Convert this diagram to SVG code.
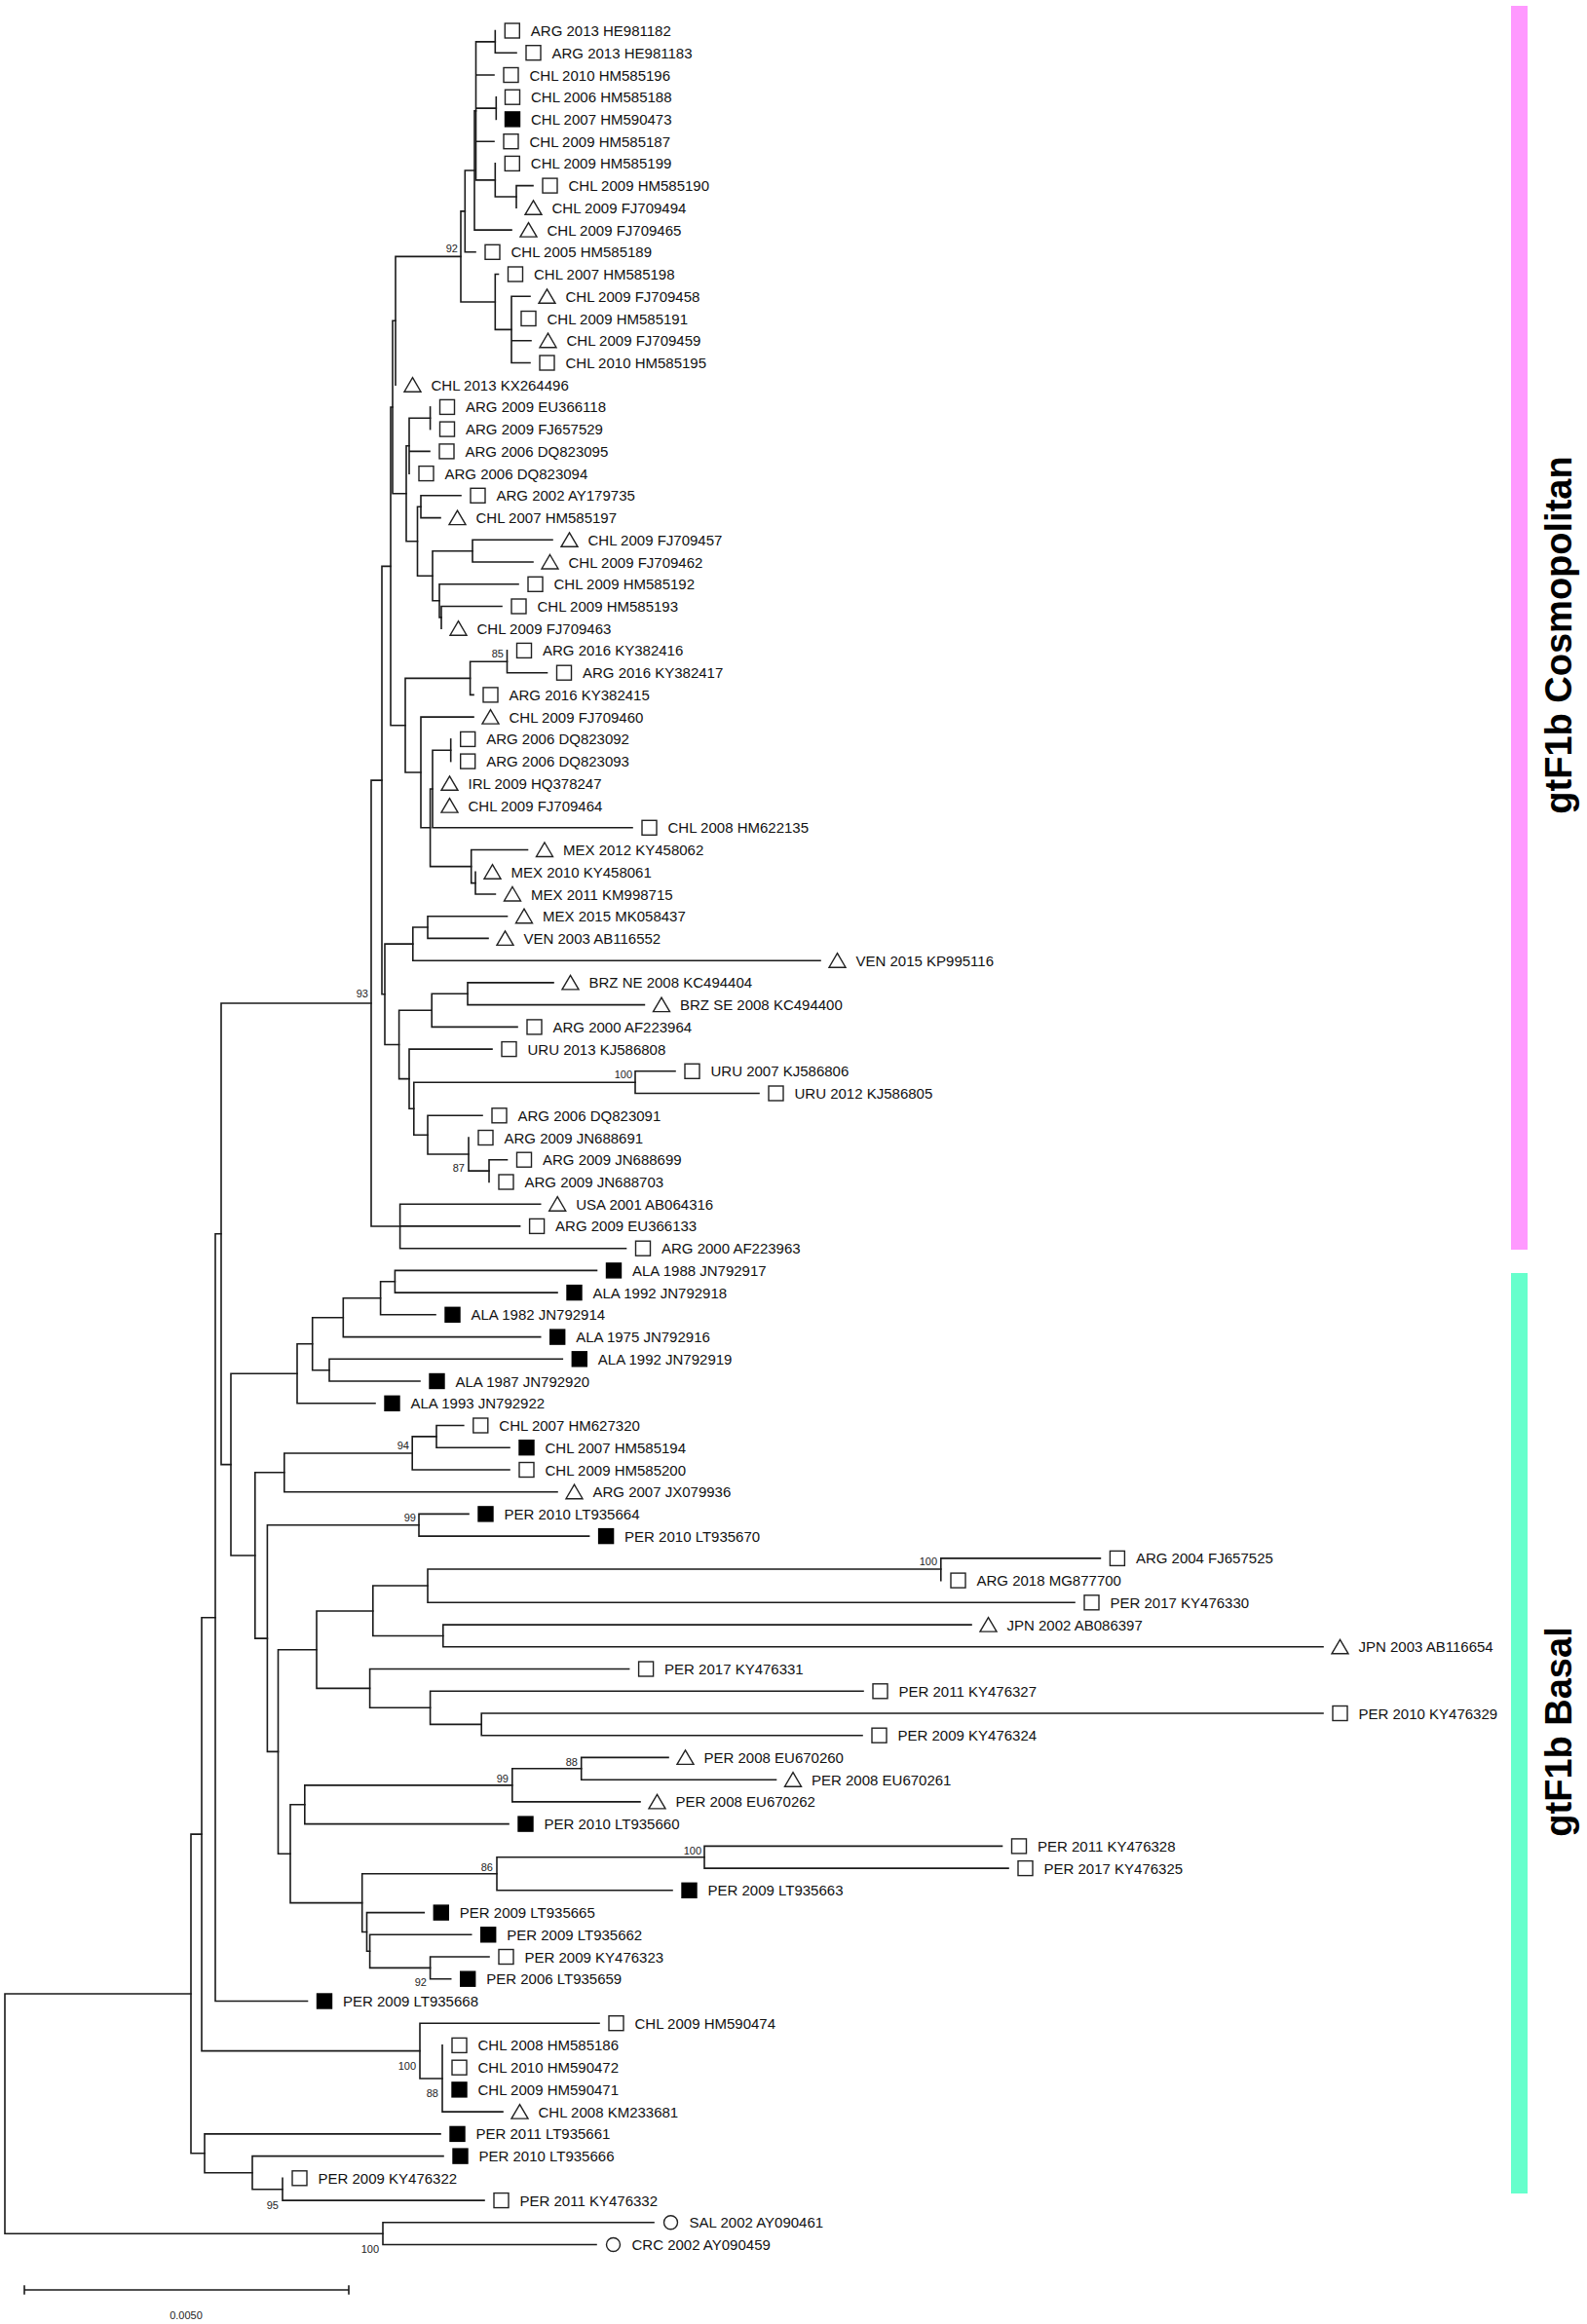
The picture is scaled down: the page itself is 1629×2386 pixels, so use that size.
<svg xmlns="http://www.w3.org/2000/svg" xmlns:xlink="http://www.w3.org/1999/xlink" width="1629" height="2386" viewBox="0 0 1629 2386">
<style>
.br{fill:none;stroke:#1a1a1a;stroke-width:1.6;stroke-linecap:square}
.lb{font-family:"Liberation Sans",Arial,sans-serif;font-size:15px;fill:#111}
.bs{font-family:"Liberation Sans",Arial,sans-serif;font-size:11px;fill:#222;text-anchor:end}
.os{fill:#fff;stroke:#222;stroke-width:1.4}
.fs{fill:#000;stroke:#000;stroke-width:1.4}
.clade{font-family:"Liberation Sans",Arial,sans-serif;font-size:38px;font-weight:bold;fill:#000;text-anchor:middle}
</style>
<defs>
<rect id="sq" class="os" x="-7.5" y="-7.5" width="15" height="15"/>
<rect id="fsq" class="fs" x="-7.5" y="-7.5" width="15" height="15"/>
<path id="tri" class="os" d="M0,-7.5 L8.5,7 L-8.5,7 Z"/>
<circle id="cir" class="os" r="7"/>
</defs>
<rect width="1629" height="2386" fill="#fff"/>
<g id="connectors" class="br">
<path d="M5 2047 V2293.2 M5 2047 H196 M5 2293.2 H393"/>
<path d="M393 2281.8 V2304.5 M393 2281.8 H671 M393 2304.5 H612"/>
<path d="M196 1883.1 V2210.8 H210 M196 1883.1 H207"/>
<path d="M207 1660.7 V2105.6 H431 M207 1660.7 H221"/>
<path d="M221 1266.8 V2054.5 H315.5 M221 1266.8 H227"/>
<path d="M227 1030 V1503.6 H237 M227 1030 H381"/>
<path d="M381 801.1 V1259 H410.6 M381 801.1 H392"/>
<path d="M392 581.4 V1020.8 H395 M392 581.4 H401"/>
<path d="M401 418 V744.7 H416 M401 418 H403"/>
<path d="M403 329.3 V506.7 H417 M403 329.3 H406"/>
<path d="M406 263.4 V395.2 M406 263.4 H473"/>
<path d="M473 216.9 V310 H508.3 M473 216.9 H477.3"/>
<path d="M477.3 175 V258.8 H488 M477.3 175 H487"/>
<path d="M487 113.9 V236.1 H525 M487 113.9 H488.5"/>
<path d="M488.5 42.9 V184.9 H508.3 M488.5 42.9 H508.3 M488.5 77 H507 M488.5 111.1 H509.3 M488.5 145.2 H507"/>
<path d="M508.3 31.5 V54.2 H530"/>
<path d="M509.3 99.7 V122.4"/>
<path d="M508.3 167.9 V202 H530"/>
<path d="M530 190.6 V213.3 M530 190.6 H547"/>
<path d="M508.3 281.5 V338.4 H525 M508.3 281.5 H511.5"/>
<path d="M525 304.3 V372.5 H544 M525 304.3 H544 M525 349.7 H545"/>
<path d="M417 457.7 V555.7 H428.5 M417 457.7 H420"/>
<path d="M420 429.3 V486.1 M420 429.3 H441.6 M420 463.4 H441"/>
<path d="M441.6 417.9 V440.6"/>
<path d="M428.5 520.2 V591.2 H444 M428.5 520.2 H432"/>
<path d="M432 508.8 V531.6 H452 M432 508.8 H473"/>
<path d="M444 565.7 V616.8 H451 M444 565.7 H485"/>
<path d="M485 554.3 V577 H547 M485 554.3 H567"/>
<path d="M451 599.8 V633.9 H453 M451 599.8 H532"/>
<path d="M453 622.5 V645.2 M453 622.5 H515"/>
<path d="M416 696.4 V793 H432 M416 696.4 H482.6"/>
<path d="M482.6 679.3 V713.4 H486 M482.6 679.3 H520.5"/>
<path d="M520.5 667.9 V690.7 H561.5"/>
<path d="M432 736.1 V849.8 H441.6 M432 736.1 H486"/>
<path d="M441.6 810 V889.6 H483.7 M441.6 810 H444"/>
<path d="M444 770.2 V849.8 H649 M444 770.2 H462.7"/>
<path d="M462.7 758.9 V781.6"/>
<path d="M483.7 872.5 V906.6 H488 M483.7 872.5 H541.5"/>
<path d="M488 895.2 V918 H508.4"/>
<path d="M395 969.1 V1072.5 H409.6 M395 969.1 H423.8"/>
<path d="M423.8 952 V986.2 H842 M423.8 952 H439"/>
<path d="M439 940.7 V963.4 H501 M439 940.7 H520.5"/>
<path d="M409.6 1037.3 V1107.6 H420 M409.6 1037.3 H443.2"/>
<path d="M443.2 1020.2 V1054.4 H531 M443.2 1020.2 H480"/>
<path d="M480 1008.9 V1031.6 H661.4 M480 1008.9 H568"/>
<path d="M420 1077.1 V1138.2 H424.8 M420 1077.1 H505"/>
<path d="M424.8 1111.2 V1165.2 H439 M424.8 1111.2 H652"/>
<path d="M652 1099.8 V1122.5 H779 M652 1099.8 H693"/>
<path d="M439 1145.3 V1185 H481 M439 1145.3 H495"/>
<path d="M481 1168 V1202.1 H502"/>
<path d="M502 1190.7 V1213.5 M502 1190.7 H520.5"/>
<path d="M410.6 1236.2 V1281.7 H642.5 M410.6 1236.2 H554.7 M410.6 1258.9 H533.6"/>
<path d="M237 1410.2 V1597 H261.8 M237 1410.2 H305"/>
<path d="M305 1379.7 V1440.8 H385 M305 1379.7 H320.7"/>
<path d="M320.7 1352.7 V1406.7 H338 M320.7 1352.7 H352.3"/>
<path d="M352.3 1332.8 V1372.6 H554.7 M352.3 1332.8 H390.6"/>
<path d="M390.6 1315.8 V1349.8 H447 M390.6 1315.8 H405.4"/>
<path d="M405.4 1304.4 V1327.1 H572 M405.4 1304.4 H612.5"/>
<path d="M338 1395.3 V1418 H431 M338 1395.3 H577.3"/>
<path d="M261.8 1511.8 V1682.1 H274.4 M261.8 1511.8 H291.8"/>
<path d="M291.8 1492 V1531.7 H572 M291.8 1492 H423.2"/>
<path d="M423.2 1474.9 V1509 H523 M423.2 1474.9 H448"/>
<path d="M448 1463.5 V1486.2 H523 M448 1463.5 H475.8"/>
<path d="M274.4 1565.8 V1798.4 H285.5 M274.4 1565.8 H430"/>
<path d="M430 1554.4 V1577.1 H604.6 M430 1554.4 H481"/>
<path d="M285.5 1693.7 V1903.2 H298 M285.5 1693.7 H325"/>
<path d="M325 1654 V1733.4 H379.6 M325 1654 H382.8"/>
<path d="M382.8 1628 V1679.5 H454.8 M382.8 1628 H439"/>
<path d="M439 1611 V1645.3 H1103 M439 1611 H965.8"/>
<path d="M965.8 1599.9 V1622.6 M965.8 1599.9 H1129.4"/>
<path d="M454.8 1668.1 V1690.8 H1358 M454.8 1668.1 H997"/>
<path d="M379.6 1713.5 V1753.3 H441.6 M379.6 1713.5 H645.6"/>
<path d="M441.6 1736.3 V1770.4 H494.2 M441.6 1736.3 H886"/>
<path d="M494.2 1759 V1781.7 H885 M494.2 1759 H1358"/>
<path d="M298 1852.7 V1953.6 H371.7 M298 1852.7 H312.8"/>
<path d="M312.8 1832.9 V1872.6 H522 M312.8 1832.9 H525.8"/>
<path d="M525.8 1815.8 V1849.9 H657 M525.8 1815.8 H596.7"/>
<path d="M596.7 1804.4 V1827.2 H796.5 M596.7 1804.4 H686"/>
<path d="M371.7 1923.8 V1983.5 H376.5 M371.7 1923.8 H510"/>
<path d="M510 1906.7 V1940.8 H690 M510 1906.7 H723"/>
<path d="M723 1895.4 V1918.1 H1035 M723 1895.4 H1028.5"/>
<path d="M376.5 1963.6 V2003.3 H379.6 M376.5 1963.6 H435.3"/>
<path d="M379.6 1986.3 V2020.4 H441.6 M379.6 1986.3 H483.7"/>
<path d="M441.6 2009 V2031.7 H462.7 M441.6 2009 H502"/>
<path d="M431 2077.2 V2134 H454 M431 2077.2 H615"/>
<path d="M454 2099.9 V2168.1 H516"/>
<path d="M210 2190.9 V2230.7 H259 M210 2190.9 H452"/>
<path d="M259 2213.6 V2247.7 H290 M259 2213.6 H455"/>
<path d="M290 2236.3 V2259.1 H497"/>
</g>
<g id="bootstrap">
<text class="bs" x="470" y="259">92</text>
<text class="bs" x="517" y="675">85</text>
<text class="bs" x="378" y="1024">93</text>
<text class="bs" x="649" y="1107">100</text>
<text class="bs" x="477" y="1203">87</text>
<text class="bs" x="420" y="1488">94</text>
<text class="bs" x="427" y="1562">99</text>
<text class="bs" x="962" y="1607">100</text>
<text class="bs" x="522" y="1830">99</text>
<text class="bs" x="593" y="1813">88</text>
<text class="bs" x="720" y="1904">100</text>
<text class="bs" x="506" y="1921">86</text>
<text class="bs" x="438" y="2039">92</text>
<text class="bs" x="427" y="2125">100</text>
<text class="bs" x="450" y="2153">88</text>
<text class="bs" x="286" y="2268">95</text>
<text class="bs" x="389" y="2313">100</text>
</g>
<g id="leaves">
<g id="HE981182" transform="translate(525.8,31.5)"><use href="#sq"/><text class="lb" x="19" y="5.5">ARG 2013 HE981182</text></g>
<g id="HE981183" transform="translate(547.5,54.2)"><use href="#sq"/><text class="lb" x="19" y="5.5">ARG 2013 HE981183</text></g>
<g id="HM585196" transform="translate(524.5,77)"><use href="#sq"/><text class="lb" x="19" y="5.5">CHL 2010 HM585196</text></g>
<g id="HM585188" transform="translate(526,99.7)"><use href="#sq"/><text class="lb" x="19" y="5.5">CHL 2006 HM585188</text></g>
<g id="HM590473" transform="translate(526,122.4)"><use href="#fsq"/><text class="lb" x="19" y="5.5">CHL 2007 HM590473</text></g>
<g id="HM585187" transform="translate(524.5,145.2)"><use href="#sq"/><text class="lb" x="19" y="5.5">CHL 2009 HM585187</text></g>
<g id="HM585199" transform="translate(525.8,167.9)"><use href="#sq"/><text class="lb" x="19" y="5.5">CHL 2009 HM585199</text></g>
<g id="HM585190" transform="translate(564.5,190.6)"><use href="#sq"/><text class="lb" x="19" y="5.5">CHL 2009 HM585190</text></g>
<g id="FJ709494" transform="translate(547.5,213.3)"><use href="#tri"/><text class="lb" x="19" y="5.5">CHL 2009 FJ709494</text></g>
<g id="FJ709465" transform="translate(542.5,236.1)"><use href="#tri"/><text class="lb" x="19" y="5.5">CHL 2009 FJ709465</text></g>
<g id="HM585189" transform="translate(505.5,258.8)"><use href="#sq"/><text class="lb" x="19" y="5.5">CHL 2005 HM585189</text></g>
<g id="HM585198" transform="translate(529,281.5)"><use href="#sq"/><text class="lb" x="19" y="5.5">CHL 2007 HM585198</text></g>
<g id="FJ709458" transform="translate(561.5,304.3)"><use href="#tri"/><text class="lb" x="19" y="5.5">CHL 2009 FJ709458</text></g>
<g id="HM585191" transform="translate(542.5,327)"><use href="#sq"/><text class="lb" x="19" y="5.5">CHL 2009 HM585191</text></g>
<g id="FJ709459" transform="translate(562.5,349.7)"><use href="#tri"/><text class="lb" x="19" y="5.5">CHL 2009 FJ709459</text></g>
<g id="HM585195" transform="translate(561.5,372.5)"><use href="#sq"/><text class="lb" x="19" y="5.5">CHL 2010 HM585195</text></g>
<g id="KX264496" transform="translate(423.5,395.2)"><use href="#tri"/><text class="lb" x="19" y="5.5">CHL 2013 KX264496</text></g>
<g id="EU366118" transform="translate(459,417.9)"><use href="#sq"/><text class="lb" x="19" y="5.5">ARG 2009 EU366118</text></g>
<g id="FJ657529" transform="translate(459,440.6)"><use href="#sq"/><text class="lb" x="19" y="5.5">ARG 2009 FJ657529</text></g>
<g id="DQ823095" transform="translate(458.5,463.4)"><use href="#sq"/><text class="lb" x="19" y="5.5">ARG 2006 DQ823095</text></g>
<g id="DQ823094" transform="translate(437.5,486.1)"><use href="#sq"/><text class="lb" x="19" y="5.5">ARG 2006 DQ823094</text></g>
<g id="AY179735" transform="translate(490.5,508.8)"><use href="#sq"/><text class="lb" x="19" y="5.5">ARG 2002 AY179735</text></g>
<g id="HM585197" transform="translate(469.5,531.6)"><use href="#tri"/><text class="lb" x="19" y="5.5">CHL 2007 HM585197</text></g>
<g id="FJ709457" transform="translate(584.5,554.3)"><use href="#tri"/><text class="lb" x="19" y="5.5">CHL 2009 FJ709457</text></g>
<g id="FJ709462" transform="translate(564.5,577)"><use href="#tri"/><text class="lb" x="19" y="5.5">CHL 2009 FJ709462</text></g>
<g id="HM585192" transform="translate(549.5,599.8)"><use href="#sq"/><text class="lb" x="19" y="5.5">CHL 2009 HM585192</text></g>
<g id="HM585193" transform="translate(532.5,622.5)"><use href="#sq"/><text class="lb" x="19" y="5.5">CHL 2009 HM585193</text></g>
<g id="FJ709463" transform="translate(470.5,645.2)"><use href="#tri"/><text class="lb" x="19" y="5.5">CHL 2009 FJ709463</text></g>
<g id="KY382416" transform="translate(538,667.9)"><use href="#sq"/><text class="lb" x="19" y="5.5">ARG 2016 KY382416</text></g>
<g id="KY382417" transform="translate(579,690.7)"><use href="#sq"/><text class="lb" x="19" y="5.5">ARG 2016 KY382417</text></g>
<g id="KY382415" transform="translate(503.5,713.4)"><use href="#sq"/><text class="lb" x="19" y="5.5">ARG 2016 KY382415</text></g>
<g id="FJ709460" transform="translate(503.5,736.1)"><use href="#tri"/><text class="lb" x="19" y="5.5">CHL 2009 FJ709460</text></g>
<g id="DQ823092" transform="translate(480.2,758.9)"><use href="#sq"/><text class="lb" x="19" y="5.5">ARG 2006 DQ823092</text></g>
<g id="DQ823093" transform="translate(480.2,781.6)"><use href="#sq"/><text class="lb" x="19" y="5.5">ARG 2006 DQ823093</text></g>
<g id="HQ378247" transform="translate(461.5,804.3)"><use href="#tri"/><text class="lb" x="19" y="5.5">IRL 2009 HQ378247</text></g>
<g id="FJ709464" transform="translate(461.5,827.1)"><use href="#tri"/><text class="lb" x="19" y="5.5">CHL 2009 FJ709464</text></g>
<g id="HM622135" transform="translate(666.5,849.8)"><use href="#sq"/><text class="lb" x="19" y="5.5">CHL 2008 HM622135</text></g>
<g id="KY458062" transform="translate(559,872.5)"><use href="#tri"/><text class="lb" x="19" y="5.5">MEX 2012 KY458062</text></g>
<g id="KY458061" transform="translate(505.5,895.2)"><use href="#tri"/><text class="lb" x="19" y="5.5">MEX 2010 KY458061</text></g>
<g id="KM998715" transform="translate(526,918)"><use href="#tri"/><text class="lb" x="19" y="5.5">MEX 2011 KM998715</text></g>
<g id="MK058437" transform="translate(538,940.7)"><use href="#tri"/><text class="lb" x="19" y="5.5">MEX 2015 MK058437</text></g>
<g id="AB116552" transform="translate(518.5,963.4)"><use href="#tri"/><text class="lb" x="19" y="5.5">VEN 2003 AB116552</text></g>
<g id="KP995116" transform="translate(859.5,986.2)"><use href="#tri"/><text class="lb" x="19" y="5.5">VEN 2015 KP995116</text></g>
<g id="KC494404" transform="translate(585.5,1008.9)"><use href="#tri"/><text class="lb" x="19" y="5.5">BRZ NE 2008 KC494404</text></g>
<g id="KC494400" transform="translate(679,1031.6)"><use href="#tri"/><text class="lb" x="19" y="5.5">BRZ SE 2008 KC494400</text></g>
<g id="AF223964" transform="translate(548.5,1054.4)"><use href="#sq"/><text class="lb" x="19" y="5.5">ARG 2000 AF223964</text></g>
<g id="KJ586808" transform="translate(522.5,1077.1)"><use href="#sq"/><text class="lb" x="19" y="5.5">URU 2013 KJ586808</text></g>
<g id="KJ586806" transform="translate(710.5,1099.8)"><use href="#sq"/><text class="lb" x="19" y="5.5">URU 2007 KJ586806</text></g>
<g id="KJ586805" transform="translate(796.5,1122.5)"><use href="#sq"/><text class="lb" x="19" y="5.5">URU 2012 KJ586805</text></g>
<g id="DQ823091" transform="translate(512.5,1145.3)"><use href="#sq"/><text class="lb" x="19" y="5.5">ARG 2006 DQ823091</text></g>
<g id="JN688691" transform="translate(498.5,1168)"><use href="#sq"/><text class="lb" x="19" y="5.5">ARG 2009 JN688691</text></g>
<g id="JN688699" transform="translate(538,1190.7)"><use href="#sq"/><text class="lb" x="19" y="5.5">ARG 2009 JN688699</text></g>
<g id="JN688703" transform="translate(519.5,1213.5)"><use href="#sq"/><text class="lb" x="19" y="5.5">ARG 2009 JN688703</text></g>
<g id="AB064316" transform="translate(572.2,1236.2)"><use href="#tri"/><text class="lb" x="19" y="5.5">USA 2001 AB064316</text></g>
<g id="EU366133" transform="translate(551.1,1258.9)"><use href="#sq"/><text class="lb" x="19" y="5.5">ARG 2009 EU366133</text></g>
<g id="AF223963" transform="translate(660,1281.7)"><use href="#sq"/><text class="lb" x="19" y="5.5">ARG 2000 AF223963</text></g>
<g id="JN792917" transform="translate(630,1304.4)"><use href="#fsq"/><text class="lb" x="19" y="5.5">ALA 1988 JN792917</text></g>
<g id="JN792918" transform="translate(589.5,1327.1)"><use href="#fsq"/><text class="lb" x="19" y="5.5">ALA 1992 JN792918</text></g>
<g id="JN792914" transform="translate(464.5,1349.8)"><use href="#fsq"/><text class="lb" x="19" y="5.5">ALA 1982 JN792914</text></g>
<g id="JN792916" transform="translate(572.2,1372.6)"><use href="#fsq"/><text class="lb" x="19" y="5.5">ALA 1975 JN792916</text></g>
<g id="JN792919" transform="translate(594.8,1395.3)"><use href="#fsq"/><text class="lb" x="19" y="5.5">ALA 1992 JN792919</text></g>
<g id="JN792920" transform="translate(448.5,1418)"><use href="#fsq"/><text class="lb" x="19" y="5.5">ALA 1987 JN792920</text></g>
<g id="JN792922" transform="translate(402.5,1440.8)"><use href="#fsq"/><text class="lb" x="19" y="5.5">ALA 1993 JN792922</text></g>
<g id="HM627320" transform="translate(493.3,1463.5)"><use href="#sq"/><text class="lb" x="19" y="5.5">CHL 2007 HM627320</text></g>
<g id="HM585194" transform="translate(540.5,1486.2)"><use href="#fsq"/><text class="lb" x="19" y="5.5">CHL 2007 HM585194</text></g>
<g id="HM585200" transform="translate(540.5,1509)"><use href="#sq"/><text class="lb" x="19" y="5.5">CHL 2009 HM585200</text></g>
<g id="JX079936" transform="translate(589.5,1531.7)"><use href="#tri"/><text class="lb" x="19" y="5.5">ARG 2007 JX079936</text></g>
<g id="LT935664" transform="translate(498.5,1554.4)"><use href="#fsq"/><text class="lb" x="19" y="5.5">PER 2010 LT935664</text></g>
<g id="LT935670" transform="translate(622.1,1577.1)"><use href="#fsq"/><text class="lb" x="19" y="5.5">PER 2010 LT935670</text></g>
<g id="FJ657525" transform="translate(1146.9,1599.9)"><use href="#sq"/><text class="lb" x="19" y="5.5">ARG 2004 FJ657525</text></g>
<g id="MG877700" transform="translate(983.5,1622.6)"><use href="#sq"/><text class="lb" x="19" y="5.5">ARG 2018 MG877700</text></g>
<g id="KY476330" transform="translate(1120.5,1645.3)"><use href="#sq"/><text class="lb" x="19" y="5.5">PER 2017 KY476330</text></g>
<g id="AB086397" transform="translate(1014.5,1668.1)"><use href="#tri"/><text class="lb" x="19" y="5.5">JPN 2002 AB086397</text></g>
<g id="AB116654" transform="translate(1375.5,1690.8)"><use href="#tri"/><text class="lb" x="19" y="5.5">JPN 2003 AB116654</text></g>
<g id="KY476331" transform="translate(663.1,1713.5)"><use href="#sq"/><text class="lb" x="19" y="5.5">PER 2017 KY476331</text></g>
<g id="KY476327" transform="translate(903.5,1736.3)"><use href="#sq"/><text class="lb" x="19" y="5.5">PER 2011 KY476327</text></g>
<g id="KY476329" transform="translate(1375.5,1759)"><use href="#sq"/><text class="lb" x="19" y="5.5">PER 2010 KY476329</text></g>
<g id="KY476324" transform="translate(902.5,1781.7)"><use href="#sq"/><text class="lb" x="19" y="5.5">PER 2009 KY476324</text></g>
<g id="EU670260" transform="translate(703.5,1804.4)"><use href="#tri"/><text class="lb" x="19" y="5.5">PER 2008 EU670260</text></g>
<g id="EU670261" transform="translate(814,1827.2)"><use href="#tri"/><text class="lb" x="19" y="5.5">PER 2008 EU670261</text></g>
<g id="EU670262" transform="translate(674.5,1849.9)"><use href="#tri"/><text class="lb" x="19" y="5.5">PER 2008 EU670262</text></g>
<g id="LT935660" transform="translate(539.5,1872.6)"><use href="#fsq"/><text class="lb" x="19" y="5.5">PER 2010 LT935660</text></g>
<g id="KY476328" transform="translate(1046,1895.4)"><use href="#sq"/><text class="lb" x="19" y="5.5">PER 2011 KY476328</text></g>
<g id="KY476325" transform="translate(1052.5,1918.1)"><use href="#sq"/><text class="lb" x="19" y="5.5">PER 2017 KY476325</text></g>
<g id="LT935663" transform="translate(707.5,1940.8)"><use href="#fsq"/><text class="lb" x="19" y="5.5">PER 2009 LT935663</text></g>
<g id="LT935665" transform="translate(452.8,1963.6)"><use href="#fsq"/><text class="lb" x="19" y="5.5">PER 2009 LT935665</text></g>
<g id="LT935662" transform="translate(501.2,1986.3)"><use href="#fsq"/><text class="lb" x="19" y="5.5">PER 2009 LT935662</text></g>
<g id="KY476323" transform="translate(519.5,2009)"><use href="#sq"/><text class="lb" x="19" y="5.5">PER 2009 KY476323</text></g>
<g id="LT935659" transform="translate(480.2,2031.7)"><use href="#fsq"/><text class="lb" x="19" y="5.5">PER 2006 LT935659</text></g>
<g id="LT935668" transform="translate(333,2054.5)"><use href="#fsq"/><text class="lb" x="19" y="5.5">PER 2009 LT935668</text></g>
<g id="HM590474" transform="translate(632.5,2077.2)"><use href="#sq"/><text class="lb" x="19" y="5.5">CHL 2009 HM590474</text></g>
<g id="HM585186" transform="translate(471.5,2099.9)"><use href="#sq"/><text class="lb" x="19" y="5.5">CHL 2008 HM585186</text></g>
<g id="HM590472" transform="translate(471.5,2122.7)"><use href="#sq"/><text class="lb" x="19" y="5.5">CHL 2010 HM590472</text></g>
<g id="HM590471" transform="translate(471.5,2145.4)"><use href="#fsq"/><text class="lb" x="19" y="5.5">CHL 2009 HM590471</text></g>
<g id="KM233681" transform="translate(533.5,2168.1)"><use href="#tri"/><text class="lb" x="19" y="5.5">CHL 2008 KM233681</text></g>
<g id="LT935661" transform="translate(469.5,2190.9)"><use href="#fsq"/><text class="lb" x="19" y="5.5">PER 2011 LT935661</text></g>
<g id="LT935666" transform="translate(472.5,2213.6)"><use href="#fsq"/><text class="lb" x="19" y="5.5">PER 2010 LT935666</text></g>
<g id="KY476322" transform="translate(307.5,2236.3)"><use href="#sq"/><text class="lb" x="19" y="5.5">PER 2009 KY476322</text></g>
<g id="KY476332" transform="translate(514.5,2259.1)"><use href="#sq"/><text class="lb" x="19" y="5.5">PER 2011 KY476332</text></g>
<g id="AY090461" transform="translate(688.5,2281.8)"><use href="#cir"/><text class="lb" x="19" y="5.5">SAL 2002 AY090461</text></g>
<g id="AY090459" transform="translate(629.5,2304.5)"><use href="#cir"/><text class="lb" x="19" y="5.5">CRC 2002 AY090459</text></g>
</g>
<g id="scale-bar">
<path class="br" d="M25 2351 H358 M25 2347 V2355 M358 2347 V2355"/>
<text class="bs" x="191" y="2381" style="text-anchor:middle">0.0050</text>
</g>
<g id="clade-cosmopolitan">
<rect x="1551" y="6" width="17" height="1277" fill="#FF99FF"/>
<text class="clade" transform="translate(1613,652) rotate(-90)">gtF1b Cosmopolitan</text>
</g>
<g id="clade-basal">
<rect x="1551" y="1307" width="17" height="945" fill="#66FFCC"/>
<text class="clade" transform="translate(1613,1778) rotate(-90)">gtF1b Basal</text>
</g>
</svg>
